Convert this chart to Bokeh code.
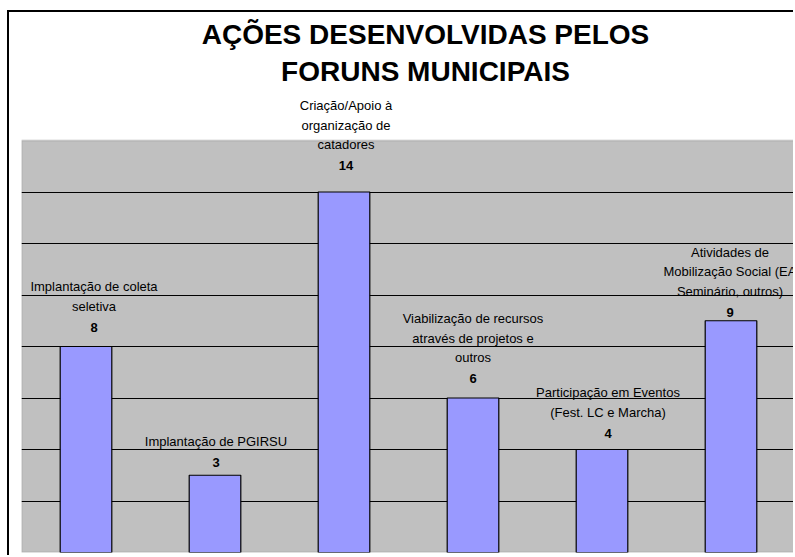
from bokeh.plotting import figure
from bokeh.models import ColumnDataSource, LabelSet, Label, FixedTicker, Range1d, FactorRange, BoxAnnotation
from bokeh.core.properties import value
from bokeh.embed import file_html
from bokeh.resources import INLINE

# ---- data ----
title_lines = ["AÇÕES DESENVOLVIDAS PELOS", "FORUNS MUNICIPAIS"]
categories = [
    "Implantação de coleta\nseletiva",
    "Implantação de PGIRSU",
    "Criação/Apoio à\norganização de\ncatadores",
    "Viabilização de recursos\natravés de projetos e\noutros",
    "Participação em Eventos\n(Fest. LC e Marcha)",
    "Atividades de\nMobilização Social (EA\nSeminário, outros)",
]
values = [8, 3, 14, 6, 4, 9]
y_max = 16
grid_step = 2

# ---- layout / style (page px) ----
value_gap = [15, 8, 22, 15, 12, 4]
label_dx = [8, 1, 2, 0, 6, -1]
line_step = 19.5
cat_gap = 21
FONT = "Liberation Sans"

CANVAS_X, CANVAS_Y = 9, 12          # after css margin + border
W, H = 795 - CANVAS_X, 557 - CANVAS_Y
PLOT_LEFT, PLOT_TOP, PLOT_BOTTOM = 21, 140, 552
MB_LEFT = PLOT_LEFT - CANVAS_X
MB_BOTTOM = 557 - PLOT_BOTTOM
frame_h = H - MB_BOTTOM
y_top = y_max * frame_h / (PLOT_BOTTOM - PLOT_TOP)

p = figure(
    x_range=FactorRange(*categories),
    y_range=Range1d(0, y_top),
    width=W, height=H,
    output_backend="svg", toolbar_location=None, title=None,
    min_border_left=MB_LEFT, min_border_right=0,
    min_border_top=0, min_border_bottom=MB_BOTTOM,
)
p.styles = {"margin-left": "7px", "margin-top": "10px",
            "border-left": "2px solid black", "border-top": "2px solid black"}
p.xaxis.visible = False
p.yaxis.visible = False
p.xgrid.visible = False
p.ygrid.ticker = FixedTicker(ticks=list(range(grid_step, y_max, grid_step)))
p.ygrid.grid_line_color = "black"
p.ygrid.grid_line_width = 1
p.background_fill_color = "white"
p.border_fill_color = "white"
p.outline_line_color = None

# grey plot area (0 .. y_max); right edge runs past the visible frame
p.add_layout(BoxAnnotation(bottom=0, top=y_max, right=len(categories) + 1,
                           fill_color="#C0C0C0", fill_alpha=1,
                           line_color="#8C8C8C", line_width=2, level="image"))

p.vbar(x=categories, top=values, width=0.4, fill_color="#9999FF",
       line_color="black", line_width=1.2)

# category labels (one entry per line)
lx, ly, lt, ldx, ldy = [], [], [], [], []
for c, v, g, dx in zip(categories, values, value_gap, label_dx):
    lines = c.split("\n")
    n = len(lines)
    for k, line in enumerate(lines):
        lx.append(c); ly.append(v); lt.append(line); ldx.append(dx)
        ldy.append(g + cat_gap + (n - 1 - k) * line_step)
cat_src = ColumnDataSource(dict(x=lx, y=ly, text=lt, dx=ldx, dy=ldy))
p.add_layout(LabelSet(x="x", y="y", text="text", source=cat_src,
                      x_offset="dx", y_offset="dy",
                      text_align="center", text_baseline="alphabetic",
                      text_font=value(FONT), text_font_size="13px",
                      text_color="black"))

val_src = ColumnDataSource(dict(x=categories, y=values, text=[str(v) for v in values],
                                dx=label_dx, dy=value_gap))
p.add_layout(LabelSet(x="x", y="y", text="text", source=val_src,
                      x_offset="dx", y_offset="dy",
                      text_align="center", text_baseline="alphabetic",
                      text_font=value(FONT), text_font_size="13px",
                      text_font_style="bold", text_color="black"))

# title (screen units relative to frame bottom-left; +11 empirical correction)
for line, base in zip(title_lines, [45, 82]):
    p.add_layout(Label(x=425 - PLOT_LEFT, y=PLOT_BOTTOM - base + 11,
                       x_units="screen", y_units="screen",
                       text=line, text_align="center", text_baseline="alphabetic",
                       text_font=FONT, text_font_size="28px",
                       text_font_style="bold", text_color="black"))

open("out.html", "w").write(file_html(p, INLINE))
